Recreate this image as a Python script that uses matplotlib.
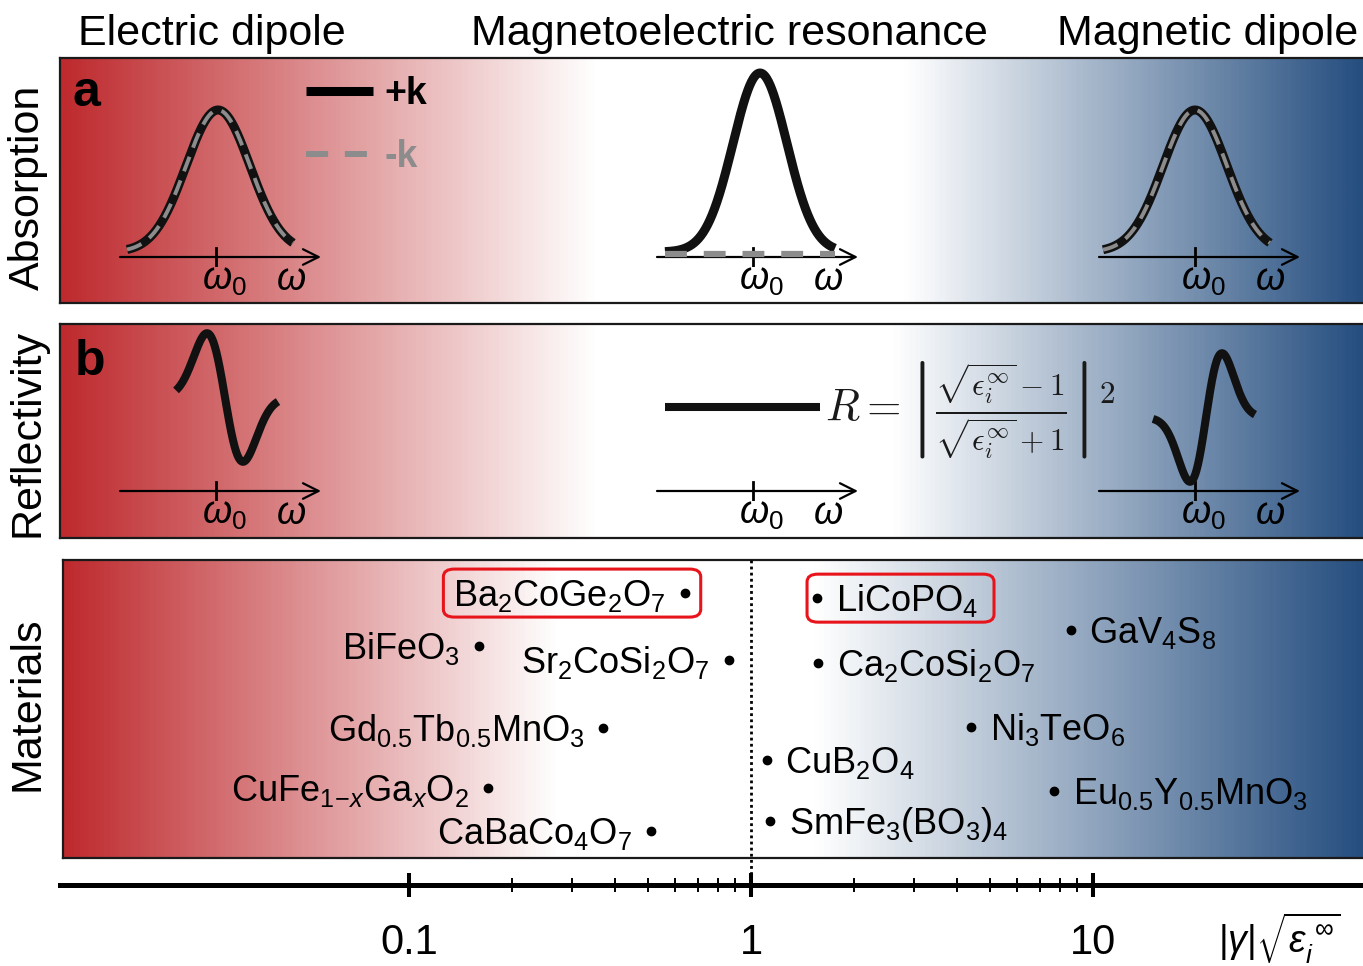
import numpy as np
import matplotlib.pyplot as plt
from matplotlib.colors import LinearSegmentedColormap
from matplotlib.lines import Line2D
from matplotlib.patches import FancyBboxPatch
from matplotlib.ticker import FixedLocator, NullFormatter

plt.rcParams['font.family'] = ['Liberation Sans', 'DejaVu Sans']
plt.rcParams['mathtext.fontset'] = 'custom'
plt.rcParams['mathtext.rm'] = 'Liberation Sans'
plt.rcParams['mathtext.it'] = 'Liberation Sans:italic'
plt.rcParams['mathtext.bf'] = 'Liberation Sans:bold'

# ---- data ----
headings = ['Electric dipole', 'Magnetoelectric resonance', 'Magnetic dipole']
row_labels = ['Absorption', 'Reflectivity', 'Materials']

materials = ['Ba$_2$CoGe$_2$O$_7$', 'BiFeO$_3$', 'Sr$_2$CoSi$_2$O$_7$',
             'Gd$_{0.5}$Tb$_{0.5}$MnO$_3$', 'CuFe$_{1\\!-\\!x}$Ga$_x$O$_2$',
             'CaBaCo$_4$O$_7$', 'LiCoPO$_4$', 'Ca$_2$CoSi$_2$O$_7$',
             'GaV$_4$S$_8$', 'Ni$_3$TeO$_6$', 'CuB$_2$O$_4$',
             'Eu$_{0.5}$Y$_{0.5}$MnO$_3$', 'SmFe$_3$(BO$_3$)$_4$']
gamma = [0.64, 0.16, 0.86, 0.37, 0.17, 0.51, 1.56, 1.57, 8.6, 4.4, 1.11, 7.7, 1.14]
row_pos = [0.111, 0.289, 0.336, 0.564, 0.765, 0.909, 0.128, 0.346, 0.235,
           0.560, 0.671, 0.775, 0.876]
highlight = ['Ba$_2$CoGe$_2$O$_7$', 'LiCoPO$_4$']

major_ticks = [0.1, 1, 10]
tick_labels = ['0.1', '1', '10']
minor_ticks = [0.2, 0.3, 0.4, 0.5, 0.6, 0.7, 0.8, 0.9, 2, 3, 4, 5, 6, 7, 8, 9]

# schematic spectra (electric dipole, ME resonance, magnetic dipole)
abs_plus_h = [1.42, 1.79, 1.42]
abs_minus_h = [1.42, 0.0, 1.42]
abs_center = [0.02, 0.07, 0.0]
abs_width = [0.32, 0.27, 0.32]
abs_span = [(-0.89, 0.77), (-0.88, 0.82), (-0.92, 0.75)]

refl_sign = [-1, 0, 1]
refl_amp = [1.06, 0.0, 1.06]
refl_center = [0.09, 0.0, 0.11]
refl_width = [0.18, 0.2, 0.16]
refl_offset = [0.935, 0.84, 0.735]
refl_span = [(-0.40, 0.62), (-0.88, 0.67), (-0.42, 0.60)]

# ---- layout helpers (pixels of a 1363x966 canvas) ----
W, H = 1363, 966
fig = plt.figure(figsize=(W / 100, H / 100), dpi=100)


def box(x0, y0, x1, y1):
    return [x0 / W, 1 - y1 / H, (x1 - x0) / W, (y1 - y0) / H]


def lim(px):
    return 10 ** ((px - 751) / 342)


red, blue = '#BE2A2E', '#264F80'


def grad_panel(rect, white0, white1):
    ax = fig.add_axes(rect)
    cmap = LinearSegmentedColormap.from_list(
        'rb', [(0, red), (white0, 'white'), (white1, 'white'), (1, blue)])
    ax.imshow(np.linspace(0, 1, 600)[None, :], cmap=cmap, extent=[0, 1, 0, 1],
              aspect='auto')
    ax.set_xlim(0, 1)
    ax.set_ylim(0, 1)
    ax.set_xticks([])
    ax.set_yticks([])
    for s in ax.spines.values():
        s.set_linewidth(1.6)
        s.set_color('#1a1a1a')
    ax.spines['right'].set_visible(False)
    return ax


ax_a = grad_panel(box(60, 58, 1363, 303), 0.41, 0.65)
ax_b = grad_panel(box(60, 324, 1363, 538), 0.41, 0.64)
ax_cbg = grad_panel(box(63, 560, 1363, 858), 0.38, 0.58)


def mini(tick_px, axis_px):
    ax = fig.add_axes(box(tick_px - 110, axis_px - 200, tick_px + 120, axis_px + 10))
    ax.set_xlim(-1.1, 1.2)
    ax.set_ylim(-0.1, 2.0)
    ax.axis('off')
    ax.annotate('', xy=(1.05, 0), xytext=(-0.96, 0),
                arrowprops=dict(arrowstyle='->', lw=1.6, color='black',
                                mutation_scale=28, shrinkA=0, shrinkB=0))
    ax.plot([0, 0], [-0.09, 0.09], color='black', lw=2)
    ax.text(0.08, -0.33, r'$\omega_0$', ha='center', va='baseline', fontsize=27)
    ax.text(0.75, -0.33, r'$\omega$', ha='center', va='baseline', fontsize=27)
    return ax


tick_px = [216, 753, 1195]

# absorption
for i in range(3):
    ax = mini(tick_px[i], 257)
    x = np.linspace(abs_span[i][0], abs_span[i][1], 300)
    g = np.exp(-0.5 * ((x - abs_center[i]) / abs_width[i]) ** 2)
    ax.plot(x, 0.05 + abs_plus_h[i] * g, color='#111111', lw=6.5,
            solid_capstyle='butt', zorder=3)
    if abs_minus_h[i] > 0:
        ax.plot(x, 0.05 + abs_minus_h[i] * g, color='#8c8c8c', lw=2.8,
                dashes=(4, 2.5), zorder=4)
    else:
        ax.plot(x, 0.03 + 0 * x, color='#8c8c8c', lw=4.5, dashes=(3.5, 2.7),
                zorder=4)

# reflectivity
for i in range(3):
    ax = mini(tick_px[i], 491)
    x = np.linspace(refl_span[i][0], refl_span[i][1], 300)
    u = (x - refl_center[i]) / refl_width[i]
    y = refl_offset[i] + refl_sign[i] * refl_amp[i] * u * np.exp(-0.5 * u ** 2)
    ax.plot(x, y, color='#111111', lw=5.8, solid_capstyle='butt',
            solid_joinstyle='round')

# legend for +k / -k
handles = [Line2D([], [], color='black', lw=6.5, solid_capstyle='butt'),
           Line2D([], [], color='#8c8c8c', lw=4.3, dashes=(3.7, 2.8))]
ax_a.legend(handles, ['+k', '-k'], loc='upper left', frameon=False,
            bbox_to_anchor=(306 / W, 1 - 76 / H), bbox_transform=fig.transFigure,
            borderpad=0, borderaxespad=0, handlelength=1.78, handletextpad=0.3,
            labelspacing=0.72, labelcolor=['black', '#8c8c8c'],
            prop={'weight': 'bold', 'size': 27})

fig.text(73 / W, 1 - 106 / H, 'a', fontsize=36, fontweight='bold', va='baseline')
fig.text(75 / W, 1 - 375 / H, 'b', fontsize=36, fontweight='bold', va='baseline')

# formula
fig.text(825 / W, 1 - 410 / H,
         r'$R=\left|\frac{\sqrt{\epsilon_i^\infty}-1}{\sqrt{\epsilon_i^\infty}+1}\right|^2$',
         math_fontfamily='cm', fontsize=32, va='center', ha='left',
         color='#1a1a1a')

# headings and row labels
fig.text(78 / W, 1 - 45 / H, headings[0], fontsize=31, va='baseline', ha='left')
fig.text(471 / W, 1 - 45 / H, headings[1], fontsize=31, va='baseline', ha='left')
fig.text(1358 / W, 1 - 45 / H, headings[2], fontsize=31, va='baseline', ha='right')
for txt, yp in zip(row_labels, [187, 433, 704]):
    fig.text(28 / W, 1 - yp / H, txt, fontsize=31, rotation=90,
             ha='center', va='center')

# materials panel
ax_c = fig.add_axes(box(63, 560, 1363, 858))
ax_c.set_xscale('log')
ax_c.set_xlim(lim(63), lim(1363))
ax_c.set_ylim(1, 0)
ax_c.axis('off')
ax_c.plot([1, 1], [0, (884 - 560) / 298], ls=(0, (1, 1.2)), color='black',
          lw=2, clip_on=False)
ax_c.scatter(gamma, row_pos, s=36, color='black', zorder=3, clip_on=False)
anns = {}
for name, g, y in zip(materials, gamma, row_pos):
    if g < 1:
        a = ax_c.annotate(name, (g, y), xytext=(-13.5, -9.5),
                          textcoords='offset points', ha='right', va='baseline',
                          fontsize=26)
    else:
        a = ax_c.annotate(name, (g, y), xytext=(13.5, -9.5),
                          textcoords='offset points', ha='left', va='baseline',
                          fontsize=26)
    anns[name] = (a, g, y)

# bottom scale
axx = fig.add_axes(box(60, 883, 1363, 885))
axx.set_xscale('log')
axx.set_xlim(lim(60), lim(1363))
axx.set_ylim(0, 1)
axx.patch.set_alpha(0)
for s in ['left', 'right', 'top']:
    axx.spines[s].set_visible(False)
axx.spines['bottom'].set_linewidth(3.6)
axx.set_yticks([])
axx.xaxis.set_major_locator(FixedLocator(major_ticks))
axx.set_xticklabels(tick_labels)
axx.xaxis.set_minor_locator(FixedLocator(minor_ticks))
axx.xaxis.set_minor_formatter(NullFormatter())
axx.tick_params(which='major', direction='inout', length=17, width=2.9,
                pad=19, labelsize=30)
axx.tick_params(which='minor', direction='inout', length=10, width=1.4)
fig.text(1218 / W, 1 - 938 / H, r'$|\gamma|\sqrt{\varepsilon_i^{\ \infty}}$',
         fontsize=27, va='center', ha='left')

# red boxes around highlighted materials
fig.canvas.draw()
r = fig.canvas.get_renderer()
inv = fig.transFigure.inverted()
for name in highlight:
    a, g, y = anns[name]
    bb = a.get_window_extent(r)
    dx, dy = ax_c.transData.transform((g, y))
    x0 = min(bb.x0, dx) - 10
    x1 = max(bb.x1, dx) + 16
    y0, y1 = dy - 24, dy + 24
    (fx0, fy0), (fx1, fy1) = inv.transform([(x0, y0), (x1, y1)])
    fig.patches.append(FancyBboxPatch((fx0, fy0), fx1 - fx0, fy1 - fy0,
                                      boxstyle='round,pad=0,rounding_size=0.008',
                                      transform=fig.transFigure, fill=False,
                                      edgecolor='#e8141c', lw=2.2, zorder=5))

fig.savefig('out.png', dpi=100)
